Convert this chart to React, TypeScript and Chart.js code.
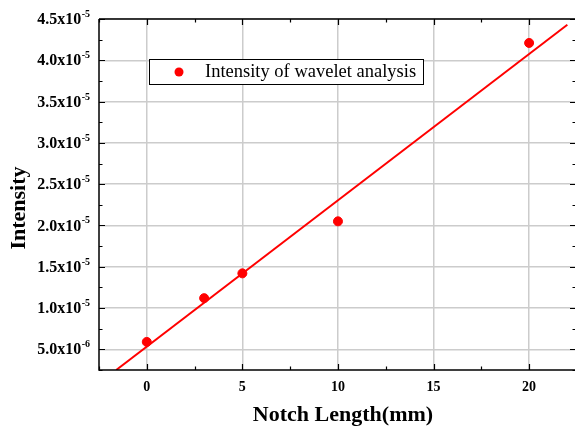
import React, { useEffect, useRef } from "react";
import { Chart, registerables } from "chart.js";
Chart.register(...registerables);

// ---- data ----
const notchLength = [0, 3, 5, 10, 20];
const intensity = [5.9e-6, 11.2e-6, 14.2e-6, 20.5e-6, 42.1e-6];
const fitX = [-1.6, 22.0];
const fitY = [2.5e-6, 44.3e-6];

const xTicks = [0, 5, 10, 15, 20];
const xMinorTicks = [-2.5, 2.5, 7.5, 12.5, 17.5];
const yTicks = [5e-6, 1e-5, 1.5e-5, 2e-5, 2.5e-5, 3e-5, 3.5e-5, 4e-5, 4.5e-5];
const yTickMantissa = ["5.0", "1.0", "1.5", "2.0", "2.5", "3.0", "3.5", "4.0", "4.5"];
const yTickExponent = ["-6", "-5", "-5", "-5", "-5", "-5", "-5", "-5", "-5"];
const yMinorTicks = [2.5e-6, 7.5e-6, 1.25e-5, 1.75e-5, 2.25e-5, 2.75e-5, 3.25e-5, 3.75e-5, 4.25e-5];

const seriesLabel = "Intensity of wavelet analysis";
const xTitle = "Notch Length(mm)";
const yTitle = "Intensity";

const SERIF = "'Liberation Serif', 'Times New Roman', serif";
const RED = "#ff0000";

const decorPlugin = {
  id: "decor",
  afterDraw(chart: any) {
    const ctx = chart.ctx;
    const { left, right, top, bottom } = chart.chartArea;
    const xs = chart.scales.x;
    const ys = chart.scales.y;
    ctx.save();

    // frame (right edge lies just outside the picture)
    ctx.strokeStyle = "#000";
    ctx.lineWidth = 1.5;
    ctx.beginPath();
    ctx.moveTo(left, top);
    ctx.lineTo(right + 2, top);
    ctx.moveTo(left, top);
    ctx.lineTo(left, bottom);
    ctx.lineTo(right + 2, bottom);
    ctx.stroke();

    // ticks (inward)
    ctx.lineWidth = 1.2;
    ctx.beginPath();
    const major = 6;
    const minor = 3.5;
    xTicks.forEach((v) => {
      const px = Math.round(xs.getPixelForValue(v)) + 0.5;
      ctx.moveTo(px, bottom);
      ctx.lineTo(px, bottom - major);
      ctx.moveTo(px, top);
      ctx.lineTo(px, top + major);
    });
    xMinorTicks.forEach((v) => {
      const px = Math.round(xs.getPixelForValue(v)) + 0.5;
      ctx.moveTo(px, bottom);
      ctx.lineTo(px, bottom - minor);
      ctx.moveTo(px, top);
      ctx.lineTo(px, top + minor);
    });
    yTicks.forEach((v) => {
      const py = Math.round(ys.getPixelForValue(v)) + 0.5;
      ctx.moveTo(left, py);
      ctx.lineTo(left + major, py);
      ctx.moveTo(right + 1, py);
      ctx.lineTo(right + 1 - major, py);
    });
    yMinorTicks.forEach((v) => {
      const py = Math.round(ys.getPixelForValue(v)) + 0.5;
      ctx.moveTo(left, py);
      ctx.lineTo(left + minor, py);
      ctx.moveTo(right + 1, py);
      ctx.lineTo(right + 1 - minor, py);
    });
    ctx.stroke();

    // y tick labels with superscript exponent
    ctx.fillStyle = "#000";
    yTicks.forEach((v, i) => {
      const py = ys.getPixelForValue(v);
      const labelRight = left - 9;
      ctx.font = `bold 10px ${SERIF}`;
      const expW = ctx.measureText(yTickExponent[i]).width;
      ctx.textAlign = "right";
      ctx.textBaseline = "alphabetic";
      ctx.fillText(yTickExponent[i], labelRight, py - 2);
      ctx.font = `bold 16px ${SERIF}`;
      ctx.textBaseline = "middle";
      ctx.fillText(yTickMantissa[i] + "x10", labelRight - expW - 0.5, py + 1);
    });

    // axis titles
    ctx.font = `bold 22px ${SERIF}`;
    ctx.textAlign = "center";
    ctx.textBaseline = "middle";
    ctx.fillText(xTitle, 343, 415);
    ctx.save();
    ctx.translate(19, 208);
    ctx.rotate(-Math.PI / 2);
    ctx.fillText(yTitle, 0, 0);
    ctx.restore();

    // legend
    const bx = 149, by = 59, bw = 274, bh = 25;
    ctx.fillStyle = "#fff";
    ctx.fillRect(bx, by, bw, bh);
    ctx.strokeStyle = "#000";
    ctx.lineWidth = 1;
    ctx.strokeRect(bx + 0.5, by + 0.5, bw, bh);
    ctx.fillStyle = RED;
    ctx.beginPath();
    ctx.arc(179, 72, 4.5, 0, Math.PI * 2);
    ctx.fill();
    ctx.fillStyle = "#000";
    ctx.font = `18.5px ${SERIF}`;
    ctx.textAlign = "left";
    ctx.textBaseline = "middle";
    ctx.fillText(seriesLabel, 205, 72);

    ctx.restore();
  },
};

export default function App() {
  const ref = useRef<HTMLCanvasElement | null>(null);
  useEffect(() => {
    document.body.style.margin = "0";
    document.body.style.overflow = "hidden";
    const canvas = ref.current!;
    const chart = new Chart(canvas, {
      type: "scatter",
      data: {
        datasets: [
          {
            label: "fit",
            data: fitX.map((x, i) => ({ x, y: fitY[i] })),
            showLine: true,
            borderColor: RED,
            borderWidth: 2,
            pointRadius: 0,
            fill: false,
          },
          {
            label: seriesLabel,
            data: notchLength.map((x, i) => ({ x, y: intensity[i] })),
            backgroundColor: RED,
            borderColor: RED,
            pointRadius: 4.5,
            pointHoverRadius: 4.5,
            showLine: false,
          },
        ],
      },
      options: {
        animation: false,
        responsive: false,
        devicePixelRatio: 1,
        layout: { autoPadding: false, padding: { top: 19, left: 0, right: 0, bottom: 0 } },
        plugins: { legend: { display: false }, tooltip: { enabled: false } },
        scales: {
          x: {
            type: "linear",
            min: -2.5,
            max: 22.4,
            afterBuildTicks: (s: any) => {
              s.ticks = xTicks.map((v) => ({ value: v }));
            },
            afterFit: (s: any) => {
              s.height = 61;
            },
            grid: { color: "#cccccc", lineWidth: 1.5, drawTicks: false },
            border: { display: false },
            ticks: {
              color: "#000",
              padding: 9,
              maxRotation: 0,
              font: { family: SERIF, size: 14, weight: "bold" },
              callback: (v: any) => String(v),
            },
          },
          y: {
            type: "linear",
            min: 2.5e-6,
            max: 4.5e-5,
            afterBuildTicks: (s: any) => {
              s.ticks = yTicks.map((v) => ({ value: v }));
            },
            afterFit: (s: any) => {
              s.width = 99;
            },
            grid: { color: "#cccccc", lineWidth: 1.5, drawTicks: false },
            border: { display: false },
            ticks: { display: false },
          },
        },
      },
      plugins: [decorPlugin],
    });
    return () => chart.destroy();
  }, []);
  return (
    <div style={{ width: 575, height: 431, background: "#fff" }}>
      <canvas ref={ref} width={575} height={431} style={{ display: "block" }} />
    </div>
  );
}
